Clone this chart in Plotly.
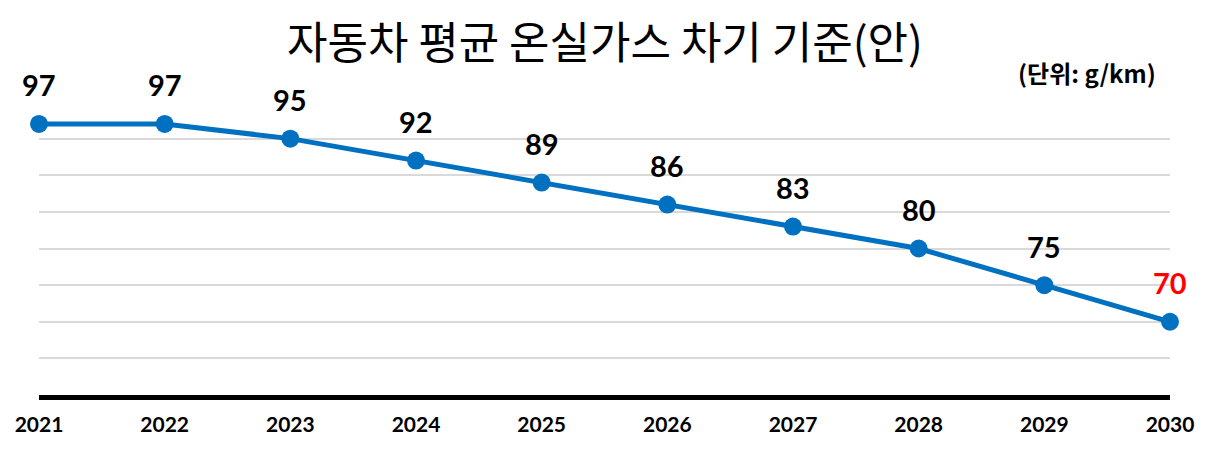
import plotly.graph_objects as go

# 연도별 기준값 (g/km)
years = [2021, 2022, 2023, 2024, 2025, 2026, 2027, 2028, 2029, 2030]
values = [97, 97, 95, 92, 89, 86, 83, 80, 75, 70]
label_colors = ['black'] * 9 + ['#FF0000']

title_text = '자동차 평균 온실가스 차기 기준(안)'
unit_text = '(단위: g/km)'

fig = go.Figure()
fig.add_trace(go.Scatter(
    x=years, y=values, mode='lines+markers',
    line=dict(color='#0070C0', width=5),
    marker=dict(color='#0070C0', size=18),
    cliponaxis=False, hoverinfo='x+y',
))

# 값 라벨
for yr, v, c in zip(years, values, label_colors):
    fig.add_annotation(x=yr, y=v, text='<b>%d</b>' % v, showarrow=False,
                       yshift=39, font=dict(family='Lato, Noto Sans CJK KR', size=29, color=c))

# 제목, 단위
fig.add_annotation(xref='paper', yref='paper', x=0.5, y=1.0, yshift=62,
                   xanchor='center', yanchor='middle', showarrow=False,
                   text=title_text,
                   font=dict(family='Noto Sans CJK KR', size=44, color='black'))
fig.add_annotation(xref='paper', yref='paper', x=1.0, y=1.0, yshift=30, xshift=-12,
                   xanchor='right', yanchor='middle', showarrow=False,
                   text='<b>' + unit_text + '</b>',
                   font=dict(family='Noto Sans CJK KR', size=24, color='black'))

fig.update_layout(
    width=1202, height=441,
    margin=dict(l=31, r=40, t=94, b=54),
    paper_bgcolor='white', plot_bgcolor='white',
    showlegend=False,
    xaxis=dict(range=[2021, 2030], tickvals=years, ticktext=['<b>%d</b>' % y for y in years],
               showgrid=False, zeroline=False, automargin=False,
               showline=True, linecolor='black', linewidth=5,
               ticks='outside', ticklen=7, tickcolor='rgba(0,0,0,0)',
               tickfont=dict(family='Lato, Noto Sans CJK KR', size=21, color='black')),
    yaxis=dict(range=[60, 100], dtick=5, showticklabels=False, zeroline=False, automargin=False,
               showgrid=True, gridcolor='#D9D9D9', gridwidth=1.5, showline=False),
)

fig.write_html('out.html')
